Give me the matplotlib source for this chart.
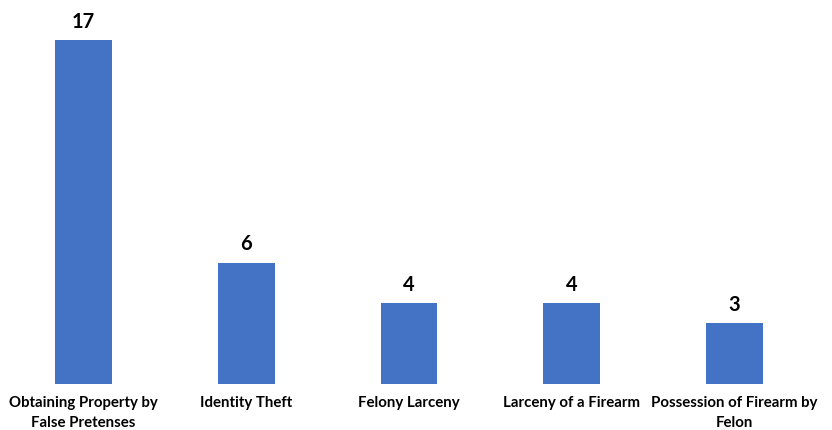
import matplotlib
matplotlib.use("Agg")
import matplotlib.pyplot as plt

categories = ["Obtaining Property by\nFalse Pretenses", "Identity Theft", "Felony Larceny",
              "Larceny of a Firearm", "Possession of Firearm by\nFelon"]
counts = [17, 6, 4, 4, 3]

plt.rcParams['font.family'] = ['Lato', 'DejaVu Sans']

fig = plt.figure(figsize=(8.32, 4.30), dpi=100)
ax = fig.add_axes([2 / 832, 1 - 384 / 430, 814 / 832, 344 / 430])

x = range(len(categories))
bars = ax.bar(x, counts, width=0.35, color="#4472C4")
for b, v in zip(bars, counts):
  ax.annotate(str(v), (b.get_x() + b.get_width() / 2, v), xytext=(0, 6),
              textcoords="offset points", ha="center", va="bottom",
              fontsize=14.5, fontweight="bold")

ax.set_xlim(-0.5, len(categories) - 0.5)
ax.set_ylim(0, 17)
ax.set_xticks(list(x))
ax.set_xticklabels(categories, fontsize=10.8, fontweight="bold", linespacing=1.5)
ax.tick_params(axis="x", length=0, pad=9)
ax.set_yticks([])
for s in ax.spines.values():
  s.set_visible(False)

fig.savefig("out.png", dpi=100)
